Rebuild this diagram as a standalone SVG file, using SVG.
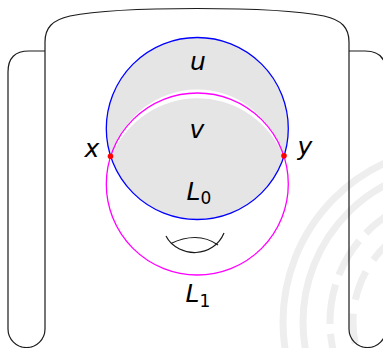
<svg xmlns="http://www.w3.org/2000/svg" width="383" height="348" viewBox="0 0 383 348">
<style>
.out{fill:none;stroke:#1a1a1a;stroke-width:1.2}
.wm{fill:none;stroke:#eeeeee;stroke-width:7}
.lbl{font-family:"DejaVu Sans","Liberation Sans",sans-serif;font-style:italic;font-size:25px;fill:#000;text-anchor:middle}
.sub{font-style:normal;font-size:17px}
</style>
<rect width="383" height="348" fill="#fff"/>
<g id="watermark">
<circle class="wm" cx="458" cy="322" r="175"/>
<circle class="wm" cx="458" cy="322" r="155"/>
<circle class="wm" cx="458" cy="322" r="128" stroke-width="5" stroke-dasharray="40 10"/>
<circle class="wm" cx="458" cy="322" r="105" stroke-width="9" stroke-dasharray="30 14"/>
</g>
<g id="surface">
<path class="out" d="M45,329 V42 C45,28 52,20 70,16 C100,10 150,8.5 197,8.5 C244,8.5 294,10 324,16 C342,20 349,28 349,42 V329"/>
<path class="out" d="M45,51 H29 C15,51 8,58 8,72 V329 A18.5,18.5 0 0 0 45,329"/>
<path class="out" d="M349,51 H365 C379,51 386,58 386,72 V329 A18.5,18.5 0 0 1 349,329"/>
</g>
<g id="u">
<circle cx="197.3" cy="128.5" r="91" fill="#e5e5e5"/>
<path d="M114,151 A87.2,87.2 0 0 1 280,149 A92.5,92.5 0 0 0 114,151 Z" fill="#fff"/>
</g>
<g id="handle">
<path class="out" d="M166,236 C172,248 186,253 196,252.5 C208,252 219,245 224,233"/>
<path class="out" d="M171,243.5 C180,239 188,237.5 195,237.5 C203,237.5 211,240 218,245"/>
</g>
<g id="loops">
<circle id="L1" cx="197.3" cy="184" r="91" fill="none" stroke="#ff00ff" stroke-width="1.3"/>
<circle id="L0" cx="197.3" cy="128.5" r="91" fill="none" stroke="#0000ff" stroke-width="1.3"/>
</g>
<g id="points">
<circle cx="110.5" cy="156.3" r="2.8" fill="#ff0000"/>
<circle cx="284" cy="155.7" r="2.8" fill="#ff0000"/>
</g>
<g id="labels">
<text class="lbl" x="198" y="70">u</text>
<text class="lbl" x="197" y="138">v</text>
<text class="lbl" x="92" y="157">x</text>
<text class="lbl" x="305" y="155">y</text>
<text class="lbl" x="199" y="200">L<tspan class="sub" dy="4">0</tspan></text>
<text class="lbl" x="198" y="302">L<tspan class="sub" dy="5">1</tspan></text>
</g>
</svg>
